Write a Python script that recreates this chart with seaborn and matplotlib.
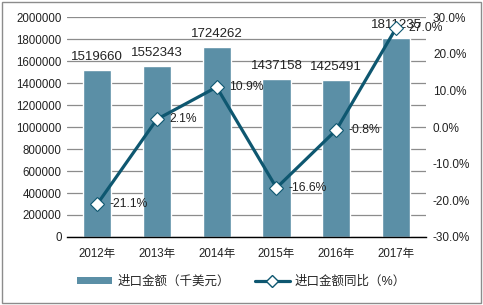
import matplotlib
matplotlib.use("Agg")
import matplotlib.pyplot as plt
import seaborn as sns
import pandas as pd
import numpy as np
from matplotlib.patches import Rectangle
from matplotlib.lines import Line2D
from matplotlib.patches import Patch

years = ["2012年", "2013年", "2014年", "2015年", "2016年", "2017年"]
amount = [1519660, 1552343, 1724262, 1437158, 1425491, 1811235]
yoy = [-21.1, 2.1, 10.9, -16.6, -0.8, 27.0]
left_ticks = [0, 200000, 400000, 600000, 800000, 1000000, 1200000, 1400000, 1600000, 1800000, 2000000]
right_ticks = [-30, -20, -10, 0, 10, 20, 30]
bar_name = "进口金额（千美元）"
line_name = "进口金额同比（%）"

sns.set_theme(style="white")
plt.rcParams["font.family"] = ["Liberation Sans", "Noto Sans CJK SC", "DejaVu Sans"]

bar_color = "#5B8FA6"
line_color = "#0E5770"

df = pd.DataFrame({"year": years, "amount": amount, "yoy": yoy})

fig = plt.figure(figsize=(4.83, 3.05), dpi=100)
ax = fig.add_axes([0.139, 0.223, 0.743, 0.721])
sns.barplot(data=df, x="year", y="amount", color=bar_color, width=0.47,
            saturation=1, ax=ax, zorder=2)
ax.set_ylim(0, 2000000)
ax.set_yticks(left_ticks)
ax.set_yticklabels([str(t) for t in left_ticks])
ax.yaxis.grid(True, color="#8C8C8C", linewidth=0.9, zorder=0)
ax.set_axisbelow(True)
for s in ["left", "right", "top"]:
    ax.spines[s].set_visible(False)
ax.spines["bottom"].set_color("#000000")
ax.spines["bottom"].set_linewidth(1.0)
ax.set_xlabel("")
ax.set_ylabel("")
ax.tick_params(axis="both", length=0, labelsize=8.3, colors="#222222", pad=4)
ax.tick_params(axis="x", pad=8)

for i, v in enumerate(amount):
    ax.annotate(str(v), (i, v), xytext=(0, 5), textcoords="offset points",
                ha="center", va="bottom", fontsize=9.5, color="#222222")

ax2 = ax.twinx()
sns.pointplot(data=df, x="year", y="yoy", color=line_color, markers="D",
              linestyles="-", ax=ax2, zorder=3)
for line in ax2.lines:
    line.set_linewidth(2.3)
    line.set_markerfacecolor("white")
    line.set_markeredgecolor(line_color)
    line.set_markersize(7.5)
    line.set_markeredgewidth(0.8)
ax2.set_ylim(-30, 30)
ax2.set_yticks(right_ticks)
ax2.set_yticklabels([f"{t:.1f}%" for t in right_ticks])
for s in ["left", "right", "top", "bottom"]:
    ax2.spines[s].set_visible(False)
ax2.set_ylabel("")
ax2.set_xlabel("")
ax2.tick_params(axis="y", length=0, labelsize=8.5, colors="#222222", pad=5)
ax2.grid(False)
for i, v in enumerate(yoy):
    ax2.annotate(f"{v:.1f}%", (i, v), xytext=(9, 0), textcoords="offset points",
                 ha="left", va="center", fontsize=8.7, color="#222222")

handles = [Patch(facecolor=bar_color, edgecolor="none"),
           Line2D([0], [0], color=line_color, lw=2.3, marker="D", markersize=6.5,
                  markerfacecolor="white", markeredgecolor=line_color)]
fig.legend(handles, [bar_name, line_name], loc="center", bbox_to_anchor=(0.5, 0.077),
           ncol=2, frameon=False, fontsize=9, handlelength=2.8, columnspacing=2.0,
           handletextpad=0.4, handleheight=0.5)

fig.patches.append(Rectangle((0.004, 0.006), 0.992, 0.988, transform=fig.transFigure,
                             fill=False, edgecolor="#8C8C8C", linewidth=1.0))

fig.savefig("out.png", dpi=100)
